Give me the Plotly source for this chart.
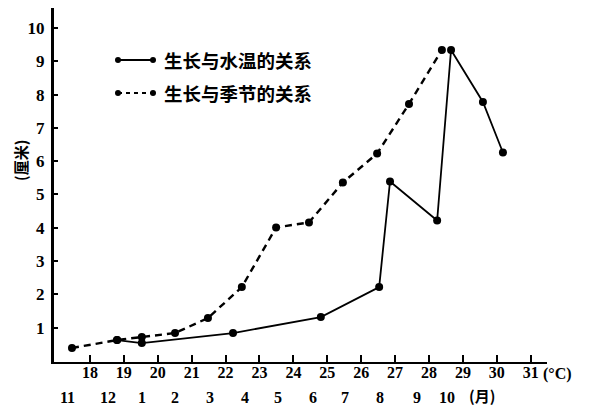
import plotly.graph_objects as go

# ---- data ----
temp_ticks = [18, 19, 20, 21, 22, 23, 24, 25, 26, 27, 28, 29, 30, 31]
temp_labels = [str(t) for t in temp_ticks]
y_ticks = [1, 2, 3, 4, 5, 6, 7, 8, 9, 10]
month_labels = ["11", "12", "1", "2", "3", "4", "5", "6", "7", "8", "9", "10"]
month_pos = [17.35, 18.54, 19.53, 20.51, 21.54, 22.57, 23.55, 24.58, 25.52, 26.55, 27.64, 28.53]

# growth vs season (dashed)
season_x = [17.47, 18.80, 19.53, 20.51, 21.48, 22.48, 23.49, 24.46, 25.46, 26.47, 27.41, 28.38]
season_y = [0.39, 0.63, 0.72, 0.84, 1.29, 2.22, 4.01, 4.16, 5.36, 6.23, 7.72, 9.34]

# growth vs water temperature (solid)
water_x = [18.80, 19.53, 22.22, 24.81, 26.53, 26.85, 28.24, 28.65, 29.59, 30.18]
water_y = [0.63, 0.54, 0.84, 1.32, 2.22, 5.39, 4.22, 9.34, 7.78, 6.26]

legend_names = ["生长与水温的关系", "生长与季节的关系"]

# ---- figure ----
# the page body has an 8px default margin, so the figure is drawn 8px in
OFF = 8
W, H = 594 - OFF, 405 - OFF
ML, MR, MT, MB = 54 - OFF, 47, 0, 43
PW, PH = W - ML - MR, H - MT - MB

def px(x):  # reference pixel x -> paper
    return (x - OFF - ML) / PW

def py(y):  # reference pixel y -> paper
    return (H - MB - (y - OFF)) / PH

SERIF = "Liberation Serif, DejaVu Serif, serif"
CJK = "Noto Sans CJK SC, sans-serif"

fig = go.Figure()
fig.add_trace(go.Scatter(
    x=water_x, y=water_y, mode="lines+markers", name=legend_names[0],
    line=dict(color="black", width=1.8),
    marker=dict(color="black", size=8), showlegend=False))
fig.add_trace(go.Scatter(
    x=season_x, y=season_y, mode="lines+markers", name=legend_names[1],
    line=dict(color="black", width=2.4, dash="7px,5px"),
    marker=dict(color="black", size=8), showlegend=False))

shapes = []
annotations = []

# legend drawn by hand (line sample with a dot at each end)
for i, (name, dash) in enumerate(zip(legend_names, ["solid", "dash"])):
    yy = 60 + i * 33
    shapes.append(dict(type="line", xref="paper", yref="paper",
                       x0=px(118), x1=px(153), y0=py(yy), y1=py(yy),
                       line=dict(color="black", width=1.8 if dash == "solid" else 2,
                                 dash="solid" if dash == "solid" else "4px,4px")))
    for cx in (118, 153):
        shapes.append(dict(type="circle", xref="paper", yref="paper",
                           x0=px(cx - 3), x1=px(cx + 3), y0=py(yy - 3), y1=py(yy + 3),
                           fillcolor="black", line=dict(color="black", width=0)))
    annotations.append(dict(xref="paper", yref="paper", x=px(162), y=py(yy),
                            xanchor="left", yanchor="middle", showarrow=False,
                            text="<b>" + name + "</b>",
                            font=dict(family=CJK, size=18.5, color="black")))

# month labels (second row under the temperature scale)
for lab, pos in zip(month_labels, month_pos):
    annotations.append(dict(x=pos, xref="x", yref="paper", y=py(397),
                            xanchor="center", yanchor="middle", showarrow=False,
                            text="<b>" + lab + "</b>",
                            font=dict(family=SERIF, size=16, color="black")))
annotations.append(dict(xref="paper", yref="paper", x=px(482), y=py(396),
                        xanchor="center", yanchor="middle", showarrow=False,
                        text="<b>(月)</b>", font=dict(family=CJK, size=15, color="black")))
annotations.append(dict(xref="paper", yref="paper", x=px(541), y=py(374),
                        xanchor="left", yanchor="middle", showarrow=False,
                        text="<b>(°C)</b>", font=dict(family=SERIF, size=16, color="black")))
# y-axis title
annotations.append(dict(xref="paper", yref="paper", x=px(21), y=py(161),
                        xanchor="center", yanchor="middle", showarrow=False,
                        textangle=-90, text="<b>(厘米)</b>",
                        font=dict(family=CJK, size=15, color="black")))

fig.update_layout(
    width=W, height=H, autosize=False,
    margin=dict(l=ML, r=MR, t=MT, b=MB, pad=0),
    paper_bgcolor="white", plot_bgcolor="white",
    shapes=shapes, annotations=annotations,
    xaxis=dict(range=[16.94, 31.48], showline=True, linecolor="black", linewidth=2,
               ticks="inside", ticklen=7, tickwidth=1.5, tickcolor="black",
               tickvals=temp_ticks, ticktext=["<b>" + t + "</b>" for t in temp_labels],
               tickfont=dict(family=SERIF, size=16, color="black"),
               ticklabelstandoff=-5,
               showgrid=False, zeroline=False, automargin=False),
    yaxis=dict(range=[-0.03, 10.6], showline=True, linecolor="black", linewidth=3,
               ticks="inside", ticklen=4, tickwidth=1.5, tickcolor="black",
               tickvals=y_ticks, ticktext=["<b>" + str(v) + "</b>" for v in y_ticks],
               tickfont=dict(family=SERIF, size=17, color="black"),
               ticklabelstandoff=3,
               showgrid=False, zeroline=False, automargin=False),
)

fig.write_html("out.html")
